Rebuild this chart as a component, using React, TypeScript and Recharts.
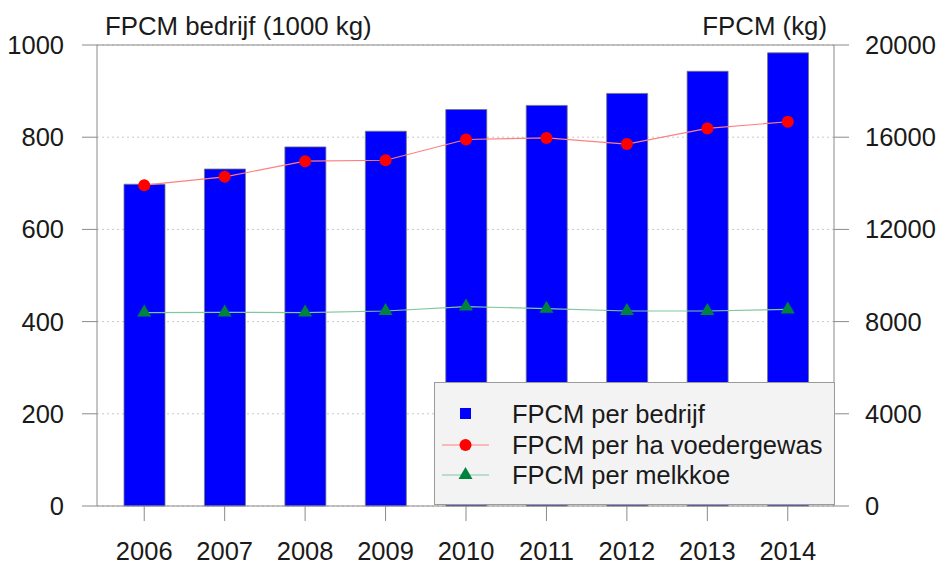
import { ComposedChart, Bar, Line, XAxis, YAxis, CartesianGrid, ReferenceLine, Legend } from 'recharts';

// years on the x axis
const years = ['2006', '2007', '2008', '2009', '2010', '2011', '2012', '2013', '2014'];

// FPCM per bedrijf (1000 kg) - left axis
const perBedrijf = [698, 731, 779, 813, 860, 869, 895, 943, 983];
// FPCM per ha voedergewas (kg) - right axis
const perHa = [13920, 14280, 14960, 15000, 15900, 15970, 15700, 16380, 16670];
// FPCM per melkkoe (kg) - right axis
const perKoe = [8390, 8400, 8390, 8460, 8650, 8560, 8460, 8460, 8530];

const leftTicks = [0, 200, 400, 600, 800, 1000];
const rightTicks = [0, 4000, 8000, 12000, 16000, 20000];

const seriesNames = ['FPCM per bedrijf', 'FPCM per ha voedergewas', 'FPCM per melkkoe'];

const data = years.map((year, i) => ({
    year,
    bedrijf: perBedrijf[i],
    ha: perHa[i],
    koe: perKoe[i],
}));

const FONT = '"Liberation Sans", Arial, sans-serif';
const AXIS = '#8a8a8a';
const TEXT = '#1a1a1a';

// triangle marker, point sits at the centroid
const Triangle = (props: any) => {
    const { cx, cy, index } = props;
    if (cx == null || cy == null) return null;
    return (
        <polygon
            key={`tri-${index}`}
            points={`${cx - 7},${cy + 4} ${cx + 7},${cy + 4} ${cx},${cy - 8}`}
            fill="#00843d"
        />
    );
};

const legendIcon = (key: string) => {
    if (key === 'bedrijf') {
        return <rect x={18} y={9} width={11} height={11} fill="#0000ff" />;
    }
    if (key === 'ha') {
        return (
            <g>
                <line x1={0} y1={15} x2={47} y2={15} stroke="#ff8080" strokeWidth={1.2} />
                <circle cx={23.5} cy={15} r={6} fill="#ff0000" />
            </g>
        );
    }
    return (
        <g>
            <line x1={0} y1={15} x2={47} y2={15} stroke="#80c8a0" strokeWidth={1.2} />
            <polygon points="16.5,19 30.5,19 23.5,7" fill="#00843d" />
        </g>
    );
};

// Legend drawn as a grey box in the lower right of the plot
const LegendBox = ({ payload }: any) => {
    const items = [...(payload || [])].sort(
        (a: any, b: any) => seriesNames.indexOf(a.value) - seriesNames.indexOf(b.value)
    );
    return (
        <div
            style={{
                boxSizing: 'border-box',
                width: 401,
                height: 123,
                border: '1px solid #9a9a9a',
                background: '#f3f3f3',
                paddingTop: 16,
                fontFamily: FONT,
                fontSize: 25.5,
                color: TEXT,
            }}
        >
            {items.map((item: any) => (
                <div key={item.value} style={{ display: 'flex', alignItems: 'center', height: 30.5 }}>
                    <svg width={47} height={30} style={{ marginLeft: 7, marginRight: 23, flex: 'none' }}>
                        {legendIcon(item.dataKey)}
                    </svg>
                    <span style={{ lineHeight: '30px', whiteSpace: 'nowrap' }}>{item.value}</span>
                </div>
            ))}
        </div>
    );
};

export default function App() {
    return (
        <div style={{ position: 'absolute', left: 0, top: 0, width: 938, height: 564, background: '#fff', fontFamily: FONT }}>
            <div style={{ position: 'absolute', left: 105, top: 14, fontSize: 25.8, lineHeight: '25px', color: TEXT, whiteSpace: 'nowrap' }}>
                FPCM bedrijf (1000 kg)
            </div>
            <div style={{ position: 'absolute', right: 111, top: 14, fontSize: 25.8, lineHeight: '25px', color: TEXT, whiteSpace: 'nowrap' }}>
                FPCM (kg)
            </div>
            <ComposedChart
                width={938}
                height={564}
                data={data}
                margin={{ top: 45, right: 0, bottom: 0, left: 0 }}
                style={{ position: 'absolute', left: 0, top: 0 }}
            >
                <CartesianGrid vertical={false} yAxisId="left" stroke="#c8c8c8" strokeDasharray="2 3" />
                <XAxis
                    dataKey="year"
                    height={58}
                    padding={{ left: 7, right: 6 }}
                    tickSize={15}
                    tickMargin={21}
                    stroke={AXIS}
                    tick={{ fill: TEXT, fontSize: 25.5, fontFamily: FONT }}
                />
                <YAxis
                    yAxisId="left"
                    orientation="left"
                    width={97}
                    domain={[0, 1000]}
                    ticks={leftTicks}
                    tickSize={15}
                    tickMargin={18}
                    stroke={AXIS}
                    tick={{ fill: TEXT, fontSize: 25.5, fontFamily: FONT }}
                />
                <YAxis
                    yAxisId="right"
                    orientation="right"
                    width={104}
                    domain={[0, 20000]}
                    ticks={rightTicks}
                    tickSize={15}
                    tickMargin={16}
                    stroke={AXIS}
                    tick={{ fill: TEXT, fontSize: 25.5, fontFamily: FONT, textAnchor: 'start' }}
                />
                <ReferenceLine yAxisId="left" y={1000} stroke={AXIS} />
                <Bar
                    yAxisId="left"
                    dataKey="bedrijf"
                    name={seriesNames[0]}
                    fill="#0000ff"
                    stroke="#777"
                    strokeWidth={0.8}
                    barSize={41}
                    isAnimationActive={false}
                />
                <Line
                    yAxisId="right"
                    dataKey="ha"
                    name={seriesNames[1]}
                    stroke="#ff8080"
                    strokeWidth={1.2}
                    dot={{ r: 6, fill: '#ff0000', stroke: 'none' }}
                    activeDot={false}
                    isAnimationActive={false}
                />
                <Line
                    yAxisId="right"
                    dataKey="koe"
                    name={seriesNames[2]}
                    stroke="#80c8a0"
                    strokeWidth={1.2}
                    dot={Triangle}
                    activeDot={false}
                    isAnimationActive={false}
                />
                <Legend
                    layout="horizontal"
                    verticalAlign="middle"
                    align="center"
                    content={<LegendBox />}
                    wrapperStyle={{ left: 434, top: 382, width: 401, height: 123 }}
                />
            </ComposedChart>
        </div>
    );
}
